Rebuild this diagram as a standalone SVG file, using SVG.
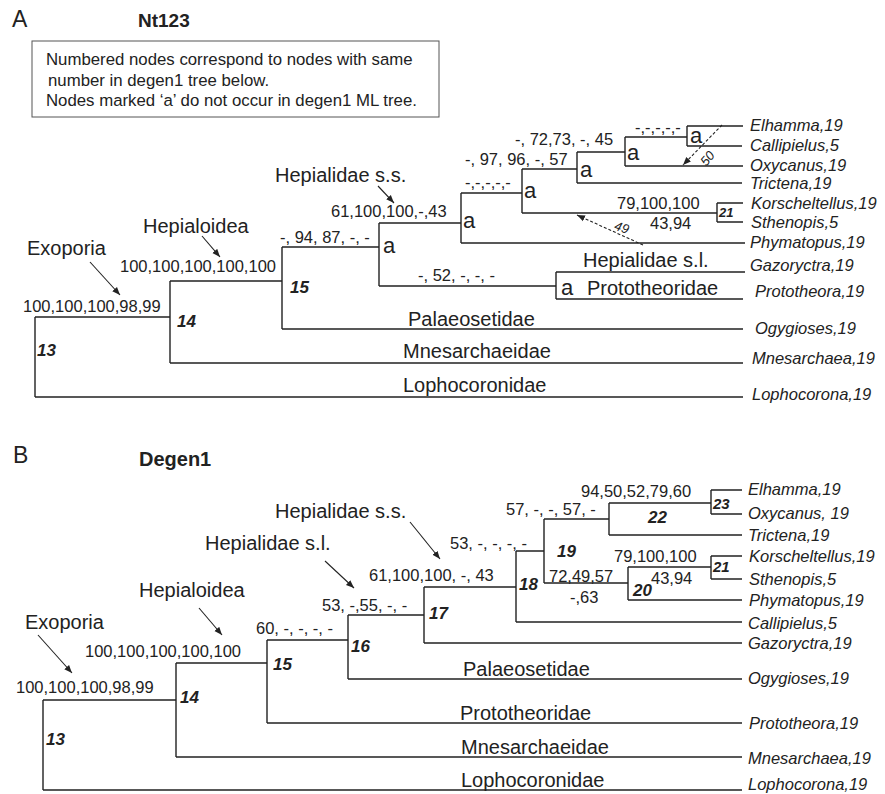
<svg xmlns="http://www.w3.org/2000/svg" width="885" height="794" viewBox="0 0 885 794">
<defs>
<style>
text{font-family:"Liberation Sans",Arial,sans-serif;fill:#222}
.br{stroke:#222;stroke-width:1.4;fill:none}
.ar{stroke:#222;stroke-width:1.1;fill:none;marker-end:url(#ah)}
.da{stroke:#222;stroke-width:1.1;fill:none;stroke-dasharray:3,2;marker-end:url(#ah)}
.sup{font-size:16.5px}
.tax{font-size:16.5px;font-style:italic}
.cl{font-size:20px}
.num{font-size:17px;font-weight:bold;font-style:italic}
.sm{font-size:13px;font-weight:bold;font-style:italic}
.a{font-size:22px}
.pan{font-size:23px}
.ttl{font-size:19px;font-weight:bold}
.box{font-size:16.8px}
.dl{font-size:13px;font-style:italic}
</style>
<marker id="ah" viewBox="0 0 10 10" refX="10" refY="5" markerWidth="8" markerHeight="8" markerUnits="userSpaceOnUse" orient="auto">
<path d="M0,1 L10,5 L0,9 Z" fill="#222"/>
</marker>
</defs>

<!-- Panel A -->
<text class="pan" x="12" y="27">A</text>
<text class="ttl" x="138" y="27">Nt123</text>
<g id="legend">
<rect x="32" y="41" width="407" height="76" fill="none" stroke="#555" stroke-width="1"/>
<text class="box" x="46" y="65">Numbered nodes correspond to nodes with same</text>
<text class="box" x="48" y="86">number in degen1 tree below.</text>
<text class="box" x="46" y="106">Nodes marked ‘a’ do not occur in degen1 ML tree.</text>
</g>

<g id="connectors-A">
<path class="br" d="M35,317 V397 M35,317 H170 M35,397 H743"/>
<path class="br" d="M170,281 V363 M170,281 H282 M170,363 H743"/>
<path class="br" d="M282,247 V329 M282,247 H379 M282,329 H743"/>
<path class="br" d="M379,223 V286 M379,223 H461 M379,286 H556"/>
<path class="br" d="M556,272 V299 M556,272 H745 M556,299 H743"/>
<path class="br" d="M461,193 V243 M461,193 H522 M461,243 H745"/>
<path class="br" d="M522,169 V213 M522,169 H577 M522,213 H717"/>
<path class="br" d="M717,203 V222 M717,203 H743 M717,222 H743"/>
<path class="br" d="M577,152 V183 M577,152 H625 M577,183 H742"/>
<path class="br" d="M625,137 V166 M625,137 H687 M625,166 H743"/>
<path class="br" d="M687,126 V146 M687,126 H743 M687,146 H742"/>
<path class="ar" d="M90,262 L120,295"/>
<path class="ar" d="M202,236 L220,257"/>
<path class="ar" d="M378,186 L394,203"/>
<path class="da" d="M722,125 L683,165"/>
<path class="da" d="M643,245 L577,215"/>
</g>

<g id="nodeA13"><text class="sup" x="23" y="312">100,100,100,98,99</text><text class="num" x="37" y="356">13</text><text class="cl" x="27" y="255">Exoporia</text></g>
<g id="nodeA14"><text class="sup" x="120" y="272">100,100,100,100,100</text><text class="num" x="177" y="327">14</text><text class="cl" x="143" y="233">Hepialoidea</text></g>
<g id="nodeA15"><text class="sup" x="280" y="243">-, 94, 87, -, -</text><text class="num" x="290" y="293">15</text></g>
<g id="nodeA-a1"><text class="sup" x="331" y="217">61,100,100,-,43</text><text class="a" x="383" y="253">a</text><text class="cl" x="275" y="182">Hepialidae s.s.</text></g>
<g id="nodeA-aP"><text class="sup" x="418" y="281">-, 52, -, -, -</text><text class="a" x="561" y="295">a</text><text class="cl" x="587" y="295">Prototheoridae</text><text class="cl" x="583" y="267">Hepialidae s.l.</text></g>
<g id="nodeA-a2"><text class="a" x="463" y="228">a</text><text class="sup" x="465" y="188">-,-,-,-,-</text></g>
<g id="nodeA-a3"><text class="a" x="524" y="198">a</text><text class="sup" x="465" y="165">-, 97, 96, -, 57</text></g>
<g id="nodeA-a4"><text class="a" x="580" y="177">a</text><text class="sup" x="515" y="145">-, 72,73, -, 45</text></g>
<g id="nodeA-a5"><text class="a" x="627" y="160">a</text><text class="sup" x="635" y="133">-,-,-,-,-</text></g>
<g id="nodeA-a6"><text class="a" x="690" y="143">a</text></g>
<g id="nodeA21"><text class="sm" x="719" y="217">21</text><text class="sup" x="617" y="209">79,100,100</text><text class="sup" x="650" y="229">43,94</text></g>
<g id="dashlabels-A">
<text class="dl" text-anchor="middle" transform="rotate(-50 707 158)" x="707" y="163">50</text>
<text class="dl" text-anchor="middle" transform="rotate(18 622 227)" x="622" y="232">49</text>
</g>
<g id="taxaA">
<text class="tax" x="750" y="131">Elhamma,19</text>
<text class="tax" x="750" y="151">Callipielus,5</text>
<text class="tax" x="750" y="171">Oxycanus,19</text>
<text class="tax" x="750" y="189">Trictena,19</text>
<text class="tax" x="751" y="209">Korscheltellus,19</text>
<text class="tax" x="751" y="228">Sthenopis,5</text>
<text class="tax" x="750" y="248">Phymatopus,19</text>
<text class="tax" x="750" y="271">Gazoryctra,19</text>
<text class="tax" x="755" y="297">Prototheora,19</text>
<text class="tax" x="755" y="334">Ogygioses,19</text>
<text class="tax" x="752" y="364">Mnesarchaea,19</text>
<text class="tax" x="752" y="400">Lophocorona,19</text>
</g>
<g id="cladesA">
<text class="cl" x="408" y="326">Palaeosetidae</text>
<text class="cl" x="403" y="358">Mnesarchaeidae</text>
<text class="cl" x="403" y="392">Lophocoronidae</text>
</g>

<!-- Panel B -->
<text class="pan" x="13" y="463">B</text>
<text class="ttl" x="139" y="466" style="font-size:20px">Degen1</text>

<g id="connectors-B">
<path class="br" d="M43,700 V790 M43,700 H176 M43,790 H742"/>
<path class="br" d="M176,663 V757 M176,663 H267 M176,757 H742"/>
<path class="br" d="M267,640 V723 M267,640 H348 M267,723 H742"/>
<path class="br" d="M348,615 V679 M348,615 H424 M348,679 H742"/>
<path class="br" d="M424,587 V643 M424,587 H516 M424,643 H742"/>
<path class="br" d="M516,551 V622 M516,551 H544 M516,622 H742"/>
<path class="br" d="M544,519 V583 M544,519 H609 M544,583 H628"/>
<path class="br" d="M609,503 V535 M609,503 H711 M609,535 H742"/>
<path class="br" d="M711,490 V514 M711,490 H742 M711,514 H742"/>
<path class="br" d="M628,567 V600 M628,567 H711 M628,600 H742"/>
<path class="br" d="M711,556 V579 M711,556 H742 M711,579 H742"/>
<path class="ar" d="M38,635 L72,673"/>
<path class="ar" d="M199,608 L222,635"/>
<path class="ar" d="M325,561 L354,588"/>
<path class="ar" d="M410,522 L440,559"/>
</g>

<g id="nodeB13"><text class="sup" x="16" y="693">100,100,100,98,99</text><text class="num" x="46" y="745">13</text><text class="cl" x="25" y="629">Exoporia</text></g>
<g id="nodeB14"><text class="sup" x="85" y="657">100,100,100,100,100</text><text class="num" x="180" y="703">14</text><text class="cl" x="139" y="597">Hepialoidea</text></g>
<g id="nodeB15"><text class="sup" x="256" y="634">60, -, -, -, -</text><text class="num" x="273" y="670">15</text></g>
<g id="nodeB16"><text class="sup" x="322" y="611">53, -,55, -, -</text><text class="num" x="351" y="652">16</text><text class="cl" x="205" y="550">Hepialidae s.l.</text></g>
<g id="nodeB17"><text class="sup" x="369" y="581">61,100,100, -, 43</text><text class="num" x="429" y="619">17</text><text class="cl" x="275" y="518">Hepialidae s.s.</text></g>
<g id="nodeB18"><text class="sup" x="450" y="549">53, -, -, -, -</text><text class="num" x="519" y="590">18</text></g>
<g id="nodeB19"><text class="sup" x="506" y="515">57, -, -, 57, -</text><text class="num" x="557" y="557">19</text><text class="sup" x="549" y="582">72,49,57</text><text class="sup" x="570" y="603">-,63</text></g>
<g id="nodeB20"><text class="num" x="633" y="596">20</text></g>
<g id="nodeB21"><text class="sup" x="614" y="562">79,100,100</text><text class="sup" x="651" y="584">43,94</text><text class="num" x="713" y="572" style="font-size:15px">21</text></g>
<g id="nodeB22"><text class="sup" x="581" y="497">94,50,52,79,60</text><text class="num" x="648" y="523">22</text></g>
<g id="nodeB23"><text class="num" x="713" y="509" style="font-size:15px">23</text></g>
<g id="taxaB">
<text class="tax" x="748" y="495">Elhamma,19</text>
<text class="tax" x="748" y="519">Oxycanus, 19</text>
<text class="tax" x="748" y="541">Trictena,19</text>
<text class="tax" x="749" y="562">Korscheltellus,19</text>
<text class="tax" x="749" y="585">Sthenopis,5</text>
<text class="tax" x="749" y="606">Phymatopus,19</text>
<text class="tax" x="748" y="629">Callipielus,5</text>
<text class="tax" x="748" y="649">Gazoryctra,19</text>
<text class="tax" x="748" y="684">Ogygioses,19</text>
<text class="tax" x="749" y="729">Prototheora,19</text>
<text class="tax" x="748" y="764">Mnesarchaea,19</text>
<text class="tax" x="748" y="790">Lophocorona,19</text>
</g>
<g id="cladesB">
<text class="cl" x="463" y="676">Palaeosetidae</text>
<text class="cl" x="460" y="720">Prototheoridae</text>
<text class="cl" x="461" y="754">Mnesarchaeidae</text>
<text class="cl" x="461" y="787">Lophocoronidae</text>
</g>
</svg>
